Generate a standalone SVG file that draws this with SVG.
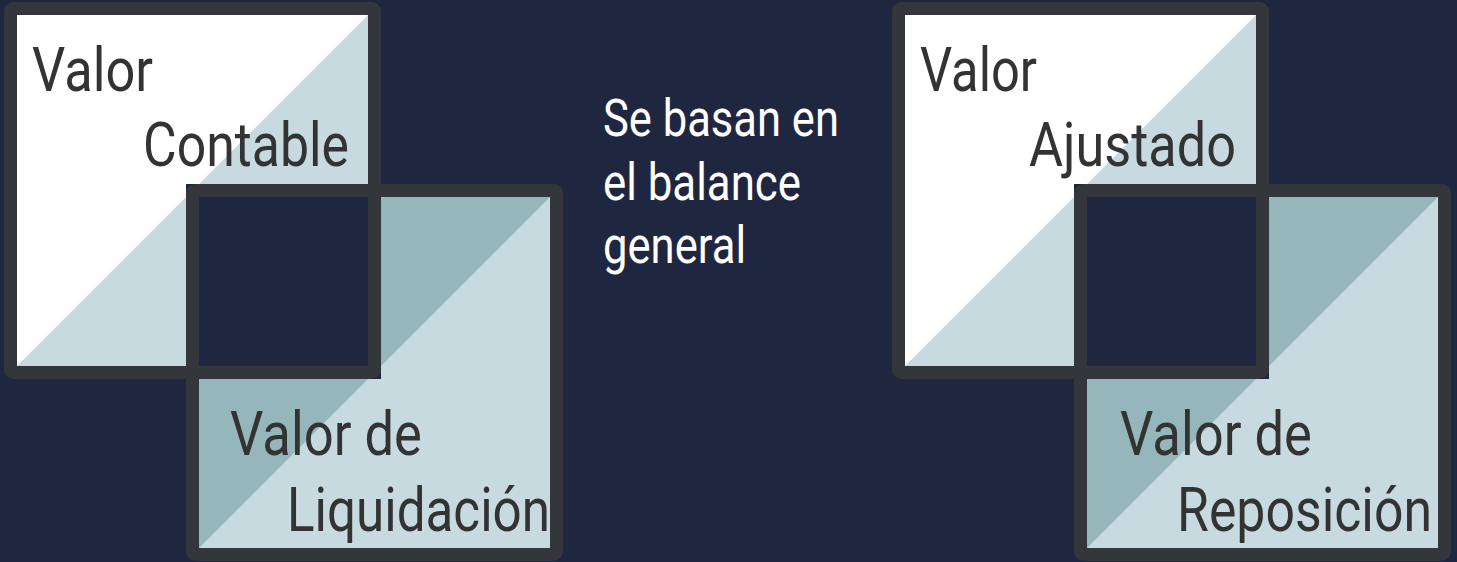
<svg xmlns="http://www.w3.org/2000/svg" width="1457" height="562" viewBox="0 0 1457 562">
  <style>
    .bg { fill: #1f2740; }
    .light { fill: #c6dae0; }
    .white { fill: #ffffff; }
    .teal { fill: #95b6ba; }
    .border { fill: none; stroke: #33363b; stroke-width: 13; }
    .label { font-family: Roboto, "Liberation Sans", sans-serif; font-size: 61px; fill: #333333; }
    .note { font-family: Roboto, "Liberation Sans", sans-serif; font-size: 52px; fill: #ffffff; }
  </style>
  <defs>
    <clipPath id="clipL1"><path clip-rule="evenodd" d="M17 15H368V366H17Z M186 184H563V561H186Z"/></clipPath>
    <clipPath id="clipL2"><path clip-rule="evenodd" d="M199 197H550V548H199Z M4 2H381V379H4Z"/></clipPath>
    <clipPath id="clipR1"><path clip-rule="evenodd" d="M905 15H1256V366H905Z M1074 184H1451V561H1074Z"/></clipPath>
    <clipPath id="clipR2"><path clip-rule="evenodd" d="M1087 197H1438V548H1087Z M892 2H1269V379H892Z"/></clipPath>
  </defs>
  <rect class="bg" x="0" y="0" width="1457" height="562"/>

  <g id="node-valor-contable">
    <g clip-path="url(#clipL1)">
      <rect class="light" x="17" y="15" width="351" height="351"/>
      <polygon class="white" points="17,15 368,15 17,366"/>
    </g>
    <text class="label" x="32" y="90.5" textLength="121" lengthAdjust="spacingAndGlyphs">Valor</text>
    <text class="label" x="143" y="165.5" textLength="206" lengthAdjust="spacingAndGlyphs">Contable</text>
    <rect class="border" x="10.5" y="8.5" width="364" height="364" rx="3"/>
  </g>

  <g id="node-valor-liquidacion">
    <g clip-path="url(#clipL2)">
      <rect class="light" x="199" y="197" width="351" height="351"/>
      <polygon class="teal" points="199,197 550,197 199,548"/>
    </g>
    <text class="label" x="230" y="455" textLength="192" lengthAdjust="spacingAndGlyphs">Valor de</text>
    <text class="label" x="287" y="531" textLength="263" lengthAdjust="spacingAndGlyphs">Liquidación</text>
    <rect class="border" x="192.5" y="190.5" width="364" height="364" rx="3"/>
  </g>

  <g id="node-nota">
    <text class="note" x="603" y="136" textLength="236" lengthAdjust="spacingAndGlyphs">Se basan en</text>
    <text class="note" x="603" y="199.5" textLength="198" lengthAdjust="spacingAndGlyphs">el balance</text>
    <text class="note" x="603" y="263" textLength="143" lengthAdjust="spacingAndGlyphs">general</text>
  </g>

  <g id="node-valor-ajustado">
    <g clip-path="url(#clipR1)">
      <rect class="light" x="905" y="15" width="351" height="351"/>
      <polygon class="white" points="905,15 1256,15 905,366"/>
    </g>
    <text class="label" x="920" y="90.5" textLength="117" lengthAdjust="spacingAndGlyphs">Valor</text>
    <text class="label" x="1029" y="165.5" textLength="207" lengthAdjust="spacingAndGlyphs">Ajustado</text>
    <rect class="border" x="898.5" y="8.5" width="364" height="364" rx="3"/>
  </g>

  <g id="node-valor-reposicion">
    <g clip-path="url(#clipR2)">
      <rect class="light" x="1087" y="197" width="351" height="351"/>
      <polygon class="teal" points="1087,197 1438,197 1087,548"/>
    </g>
    <text class="label" x="1120" y="454.5" textLength="192" lengthAdjust="spacingAndGlyphs">Valor de</text>
    <text class="label" x="1177" y="531" textLength="255" lengthAdjust="spacingAndGlyphs">Reposición</text>
    <rect class="border" x="1080.5" y="190.5" width="364" height="364" rx="3"/>
  </g>

  <g id="connectors"></g>
</svg>
